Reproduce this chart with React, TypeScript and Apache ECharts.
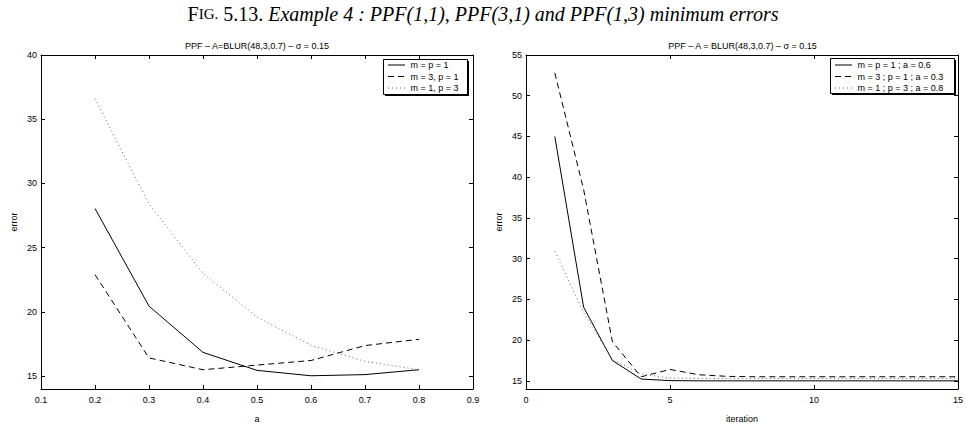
import React, { useEffect, useRef } from "react";
import * as echarts from "echarts";

// ---------- data ----------
const aValues = [0.2, 0.3, 0.4, 0.5, 0.6, 0.7, 0.8];
const leftNames = ["m = p = 1", "m = 3, p = 1", "m = 1, p = 3"];
const leftSolid = [28.05, 20.45, 16.85, 15.45, 15.03, 15.12, 15.5];
const leftDashed = [22.9, 16.42, 15.5, 15.86, 16.22, 17.38, 17.87];
const leftDotted = [36.6, 28.4, 23.0, 19.6, 17.4, 16.15, 15.5];

const iterations = [1, 2, 3, 4, 5, 6, 7, 8, 9, 10, 11, 12, 13, 14, 15];
const rightNames = ["m = p = 1 ; a = 0.6", "m = 3 ; p = 1 ; a = 0.3", "m = 1 ; p = 3 ; a = 0.8"];
const rightSolid = [45.0, 24.05, 17.5, 15.22, 15.03, 15.0, 15.0, 15.0, 15.0, 15.0, 15.0, 15.0, 15.0, 15.0, 15.0];
const rightDashed = [52.8, 38.5, 19.8, 15.5, 16.4, 15.75, 15.55, 15.5, 15.5, 15.5, 15.5, 15.5, 15.5, 15.5, 15.5];
const rightDotted = [30.9, 23.4, 17.6, 15.85, 15.35, 15.3, 15.3, 15.3, 15.3, 15.3, 15.3, 15.3, 15.3, 15.3, 15.3];

const leftXTicks = [0.1, 0.2, 0.3, 0.4, 0.5, 0.6, 0.7, 0.8, 0.9];
const leftYTicks = [15, 20, 25, 30, 35, 40];
const rightXTicks = [0, 5, 10, 15];
const rightYTicks = [15, 20, 25, 30, 35, 40, 45, 50, 55];

const mainTitleCaps = ["F", "IG."];
const mainTitleNum = "5.13.";
const mainTitleText = "Example 4 : PPF(1,1), PPF(3,1) and PPF(1,3) minimum errors";
const leftTitle = "PPF \u2013 A=BLUR(48,3,0.7) \u2013 \u03c3 = 0.15";
const rightTitle = "PPF \u2013 A = BLUR(48,3,0.7) \u2013 \u03c3 = 0.15";

// ---------- styles ----------
const FONT = "'Liberation Sans', Arial, Helvetica, sans-serif";
const SERIF = "'Liberation Serif', 'Times New Roman', serif";
const lineStyles: any[] = [
  { type: "solid", color: "#000", width: 1 },
  { type: [6, 4], color: "#000", width: 1 },
  { type: [1, 3], color: "#666", width: 1 },
];

const G0 = { left: 41, top: 55, width: 432, height: 340 };
const G1 = { left: 526, top: 55, width: 433, height: 340 };

function xAxisCfg(gridIndex: number, min: number, max: number, ticks: number[], pos: string, name?: string) {
  return {
    type: "value",
    gridIndex,
    min,
    max,
    position: pos,
    axisLine: { show: true, onZero: false, lineStyle: { color: "#000", width: 1 } },
    axisTick: { show: true, inside: true, length: 4, customValues: ticks, lineStyle: { color: "#000", width: 1 } },
    axisLabel: {
      show: pos === "bottom",
      customValues: ticks,
      fontSize: 9,
      color: "#000",
      fontFamily: FONT,
      margin: 6,
    },
    splitLine: { show: false },
    name: name || "",
    nameLocation: "middle",
    nameGap: 25,
    nameTextStyle: { fontSize: 9, color: "#000", fontFamily: FONT },
  };
}

function yAxisCfg(gridIndex: number, min: number, max: number, ticks: number[], pos: string, name?: string) {
  return {
    type: "value",
    gridIndex,
    min,
    max,
    position: pos,
    axisLine: { show: true, onZero: false, lineStyle: { color: "#000", width: 1 } },
    axisTick: { show: true, inside: true, length: 4, customValues: ticks, lineStyle: { color: "#000", width: 1 } },
    axisLabel: {
      show: pos === "left",
      customValues: ticks,
      fontSize: 9,
      color: "#000",
      fontFamily: FONT,
      margin: 4,
    },
    splitLine: { show: false },
    name: name || "",
    nameLocation: "middle",
    nameGap: 23,
    nameRotate: 90,
    nameTextStyle: { fontSize: 9, color: "#000", fontFamily: FONT },
  };
}

function legendGraphic(x: number, y: number, w: number, h: number, names: string[], lineX0: number, lineX1: number, textX: number, rows: number[]) {
  const children: any[] = [
    { type: "rect", shape: { x: x + 1.5, y: y + 1.5, width: w, height: h }, style: { fill: "#000" } },
    { type: "rect", shape: { x, y, width: w, height: h }, style: { fill: "#fff", stroke: "#000", lineWidth: 1 } },
  ];
  names.forEach((n, i) => {
    children.push({
      type: "line",
      shape: { x1: lineX0, y1: rows[i], x2: lineX1, y2: rows[i] },
      style: { stroke: lineStyles[i].color, lineWidth: 1, lineDash: lineStyles[i].type === "solid" ? null : lineStyles[i].type },
    });
    children.push({
      type: "text",
      x: textX,
      y: rows[i],
      style: { text: n, fontSize: 9, fontFamily: FONT, fill: "#000", align: "left", verticalAlign: "middle" },
    });
  });
  return { type: "group", z: 100, children };
}

function makeSeries(name: string, xs: number[], ys: number[], idx: number, axisIndex: number) {
  return {
    type: "line",
    name,
    xAxisIndex: axisIndex,
    yAxisIndex: axisIndex,
    data: xs.map((x, i) => [x, ys[i]]),
    symbol: "none",
    lineStyle: lineStyles[idx],
    silent: true,
  };
}

export default function App() {
  const ref = useRef<HTMLDivElement>(null);
  useEffect(() => {
    if (!ref.current) return;
    const chart = echarts.init(ref.current, undefined, { renderer: "svg" });
    const option: any = {
      animation: false,
      backgroundColor: "#fff",
      grid: [G0, G1],
      xAxis: [
        xAxisCfg(0, 0.1, 0.9, leftXTicks, "bottom", "a"),
        xAxisCfg(0, 0.1, 0.9, leftXTicks, "top"),
        xAxisCfg(1, 0, 15, rightXTicks, "bottom", "iteration"),
        xAxisCfg(1, 0, 15, rightXTicks, "top"),
      ],
      yAxis: [
        yAxisCfg(0, 14, 40, leftYTicks, "left", "error"),
        yAxisCfg(0, 14, 40, leftYTicks, "right"),
        yAxisCfg(1, 14, 55, rightYTicks, "left", "error"),
        yAxisCfg(1, 14, 55, rightYTicks, "right"),
      ],
      series: [
        makeSeries(leftNames[0], aValues, leftSolid, 0, 0),
        makeSeries(leftNames[1], aValues, leftDashed, 1, 0),
        makeSeries(leftNames[2], aValues, leftDotted, 2, 0),
        makeSeries(rightNames[0], iterations, rightSolid, 0, 2),
        makeSeries(rightNames[1], iterations, rightDashed, 1, 2),
        makeSeries(rightNames[2], iterations, rightDotted, 2, 2),
      ],
      graphic: [
        {
          type: "text",
          x: 483,
          y: 14,
          style: {
            text: `{cap|${mainTitleCaps[0]}}{small|${mainTitleCaps[1]}}{n| ${mainTitleNum} }{it|${mainTitleText}}`,
            align: "center",
            verticalAlign: "middle",
            fill: "#000",
            rich: {
              cap: { fontSize: 20, fontFamily: SERIF, fill: "#000" },
              small: { fontSize: 15, fontFamily: SERIF, fill: "#000" },
              n: { fontSize: 20, fontFamily: SERIF, fill: "#000" },
              it: { fontSize: 20, fontFamily: SERIF, fontStyle: "italic", fill: "#000" },
            },
          },
        },
        {
          type: "text",
          x: G0.left + G0.width / 2,
          y: 46,
          style: { text: leftTitle, fontSize: 9, fontFamily: FONT, fill: "#000", align: "center", verticalAlign: "middle" },
        },
        {
          type: "text",
          x: G1.left + G1.width / 2,
          y: 46,
          style: { text: rightTitle, fontSize: 9, fontFamily: FONT, fill: "#000", align: "center", verticalAlign: "middle" },
        },
        legendGraphic(383.5, 59.5, 84, 35, leftNames, 388, 405, 410.5, [65, 76.5, 88]),
        legendGraphic(830.5, 58.5, 124, 35, rightNames, 835, 852, 857.5, [65, 76.5, 88]),
      ],
    };
    chart.setOption(option);
    return () => chart.dispose();
  }, []);
  return <div ref={ref} style={{ position: "fixed", left: 0, top: 0, width: 966, height: 428 }} />;
}
